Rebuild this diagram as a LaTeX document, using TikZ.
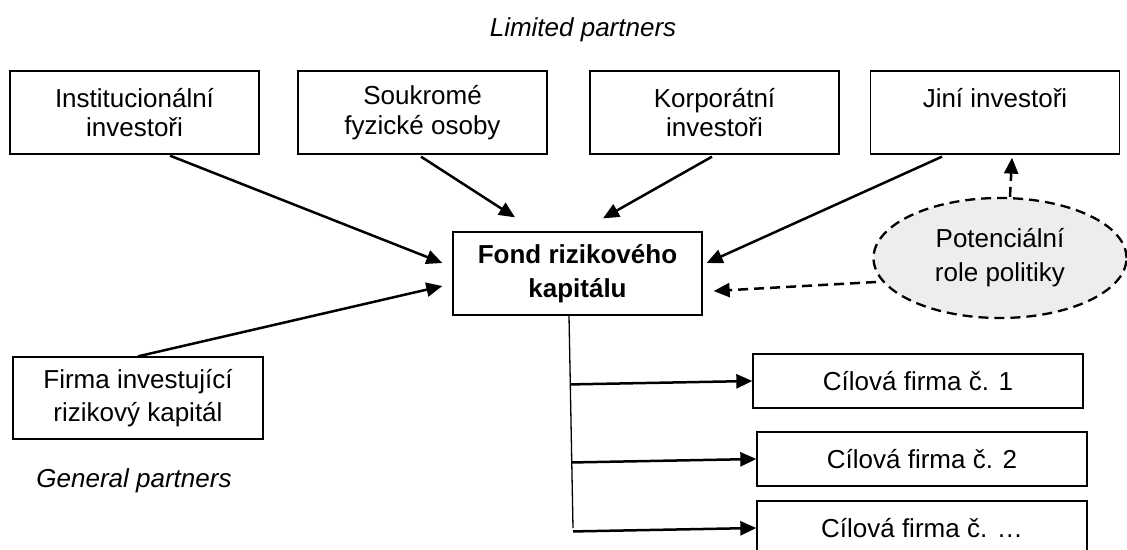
\documentclass[tikz,border=0pt]{standalone}
\usepackage{fontspec}
\setmainfont{Liberation Sans}
\usetikzlibrary{arrows.meta,shapes.geometric,calc}
\begin{document}
\begin{tikzpicture}[x=1pt,y=-1pt,
  txt/.style={font=\fontsize{26}{29.5}\selectfont},
  box/.style={draw, line width=1.3pt, inner sep=0pt, align=center, txt},
  topbox/.style={box, minimum width=249pt, minimum height=83pt},
  tgtbox/.style={box, minimum width=330pt, minimum height=54pt},
  flow/.style={line width=2.5pt, -{Triangle[length=16pt,width=14pt]}},
  hint/.style={flow, dash pattern=on 10pt off 6pt},
  lbl/.style={font=\fontsize{26}{30}\selectfont\itshape}]
\useasboundingbox (0,0) rectangle (1127,549);
\clip (0,0) rectangle (1127,549);

% group labels
\node[lbl] (lp) at (583,30) {Limited partners};
\node[lbl] (gp) at (134,481) {General partners};

% investors
\node[topbox] (inst) at (134.5,112.5) {Institucionální\\investoři};
\node[topbox] (souk) at (422.5,112.5) {Soukromé\\fyzické osoby};
\node[topbox] (korp) at (714.5,112.5) {Korporátní\\investoři};
\node[topbox] (jini) at (995,112.5) {Jiní investoři\\\mbox{}};

% fund and general partner
\node[topbox, font=\fontsize{26}{34}\selectfont\bfseries] (fund) at (577.5,273.5) {Fond rizikového\\kapitálu};
\node[box, minimum width=250pt, minimum height=82pt, font=\fontsize{26}{33}\selectfont] (firma) at (138,398) {Firma investující\\rizikový kapitál};

% policy
\node[ellipse, draw, dash pattern=on 10pt off 6pt, line width=2.3pt, fill=black!7,
      minimum width=253pt, minimum height=120pt, inner sep=0pt, align=center,
      font=\fontsize{26}{34}\selectfont] (policy) at (1000,258) {Potenciální\\role politiky};

% portfolio companies
\node[tgtbox] (tgt1) at (918,381) {Cílová firma č. 1};
\node[tgtbox] (tgt2) at (922,459) {Cílová firma č. 2};
\node[tgtbox] (tgt3) at (922,528) {Cílová firma č. …};

% capital flows into the fund
\draw[flow] ($(inst.south)+(35.5,1)$) -- ($(fund.west)+(-10,-10.5)$);
\draw[flow] ($(souk.south)+(-1.5,2)$) -- ($(fund.north)+(-62.5,-14)$);
\draw[flow] ($(korp.south)+(-2.5,2)$) -- ($(fund.north)+(25.5,-13)$);
\draw[flow] ($(jini.south)+(-53,2)$) -- ($(fund.east)+(4,-10.5)$);
\draw[flow] (firma.north) -- ($(fund.west)+(-10,12.5)$);

% policy influence
\draw[hint] ($(policy.center)+(-124,24)$) -- ($(fund.east)+(11,17.5)$);
\draw[hint] ($(policy.north)+(10,0)$) -- ($(jini.south)+(17,3)$);

% investments into portfolio companies
\coordinate (trunkTop) at ($(fund.south)+(-8.5,0)$);
\coordinate (trunkEnd) at (573,528);
\draw[line width=1.3pt] (trunkTop) -- (trunkEnd);
\draw[flow] ($(trunkTop)!(tgt1.west)!(trunkEnd)$) -- (tgt1.west);
\draw[flow] ($(trunkTop)!(tgt2.west)!(trunkEnd)$) -- (tgt2.west);
\draw[flow] ($(trunkTop)!(tgt3.west)!(trunkEnd)$) -- (tgt3.west);
\end{tikzpicture}
\end{document}
